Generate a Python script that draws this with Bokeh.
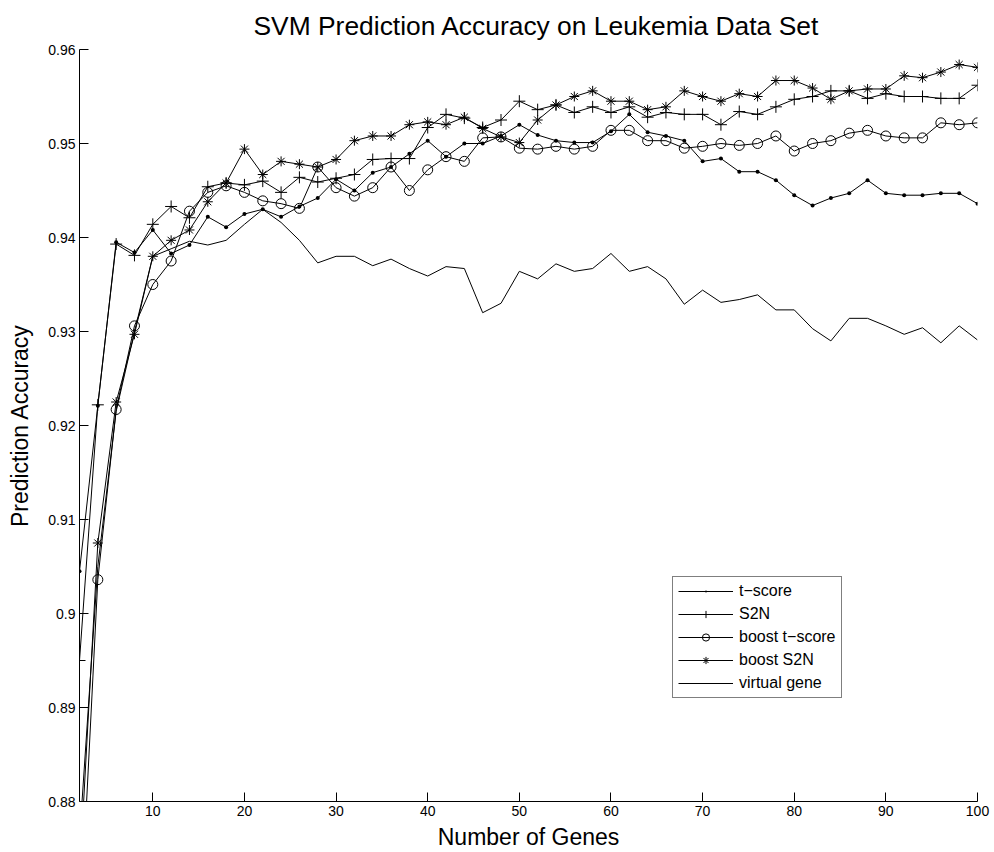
from bokeh.plotting import figure
from bokeh.models import Range1d, FixedTicker, CustomJSTickFormatter, Legend, LegendItem
from bokeh.embed import file_html
from bokeh.resources import INLINE

# Number of genes used by the classifier
genes = [2, 4, 6, 8, 10, 12, 14, 16, 18, 20,
         22, 24, 26, 28, 30, 32, 34, 36, 38, 40,
         42, 44, 46, 48, 50, 52, 54, 56, 58, 60,
         62, 64, 66, 68, 70, 72, 74, 76, 78, 80,
         82, 84, 86, 88, 90, 92, 94, 96, 98, 100]

# Prediction accuracy for each gene-selection method
t_score = [0.9045, 0.9221, 0.9395, 0.9384, 0.9408, 0.9383, 0.9392, 0.9422, 0.9411, 0.9425,
           0.9430, 0.9422, 0.9433, 0.9442, 0.9462, 0.9450, 0.9469, 0.9475, 0.9489, 0.9503,
           0.9486, 0.9500, 0.9500, 0.9508, 0.9520, 0.9509, 0.9503, 0.9501, 0.9501, 0.9513,
           0.9531, 0.9512, 0.9508, 0.9503, 0.9481, 0.9484, 0.9470, 0.9470, 0.9461, 0.9445,
           0.9434, 0.9442, 0.9447, 0.9461, 0.9447, 0.9445, 0.9445, 0.9447, 0.9447, 0.9436]

s2n = [0.8950, 0.9222, 0.9393, 0.9381, 0.9414, 0.9433, 0.9421, 0.9454, 0.9458, 0.9456,
       0.9460, 0.9448, 0.9464, 0.9459, 0.9463, 0.9467, 0.9483, 0.9484, 0.9484, 0.9517,
       0.9531, 0.9527, 0.9517, 0.9525, 0.9545, 0.9536, 0.9541, 0.9533, 0.9539, 0.9533,
       0.9539, 0.9528, 0.9533, 0.9531, 0.9531, 0.9520, 0.9534, 0.9531, 0.9539, 0.9547,
       0.9550, 0.9556, 0.9556, 0.9548, 0.9553, 0.9550, 0.9550, 0.9548, 0.9548, 0.9562]

boost_t_score = [0.8650, 0.9036, 0.9217, 0.9306, 0.9350, 0.9375, 0.9428, 0.9448, 0.9455, 0.9448,
                 0.9439, 0.9436, 0.9431, 0.9475, 0.9453, 0.9444, 0.9453, 0.9475, 0.9450, 0.9472,
                 0.9486, 0.9481, 0.9506, 0.9507, 0.9495, 0.9494, 0.9497, 0.9494, 0.9497, 0.9514,
                 0.9514, 0.9503, 0.9503, 0.9495, 0.9497, 0.9500, 0.9498, 0.9500, 0.9508, 0.9492,
                 0.9500, 0.9503, 0.9511, 0.9514, 0.9508, 0.9506, 0.9506, 0.9522, 0.9520, 0.9522]

boost_s2n = [0.8720, 0.9075, 0.9225, 0.9297, 0.9380, 0.9397, 0.9408, 0.9438, 0.9458, 0.9494,
             0.9467, 0.9481, 0.9478, 0.9475, 0.9483, 0.9503, 0.9508, 0.9508, 0.9520, 0.9523,
             0.9520, 0.9528, 0.9516, 0.9507, 0.9501, 0.9525, 0.9541, 0.9550, 0.9556, 0.9545,
             0.9545, 0.9536, 0.9539, 0.9556, 0.9550, 0.9545, 0.9553, 0.9550, 0.9567, 0.9567,
             0.9559, 0.9547, 0.9556, 0.9558, 0.9558, 0.9572, 0.9570, 0.9576, 0.9584, 0.9581]

virtual_gene = [0.8760, 0.9050, 0.9215, 0.9300, 0.9380, 0.9388, 0.9396, 0.9392, 0.9397, 0.9414,
                0.9430, 0.9416, 0.9397, 0.9373, 0.9380, 0.9380, 0.9370, 0.9377, 0.9367, 0.9359,
                0.9369, 0.9367, 0.9320, 0.9330, 0.9364, 0.9356, 0.9372, 0.9364, 0.9367, 0.9383,
                0.9364, 0.9369, 0.9356, 0.9329, 0.9344, 0.9331, 0.9334, 0.9339, 0.9323, 0.9323,
                0.9303, 0.9290, 0.9314, 0.9314, 0.9306, 0.9297, 0.9304, 0.9288, 0.9306, 0.9291]

x_ticks = [10, 20, 30, 40, 50, 60, 70, 80, 90, 100]
y_ticks = [0.88, 0.89, 0.90, 0.91, 0.92, 0.93, 0.94, 0.95, 0.96]

FONT = "Liberation Sans"

p = figure(width=994, height=852, output_backend="svg", toolbar_location=None,
           x_range=Range1d(2, 100), y_range=Range1d(0.88, 0.96),
           title="SVM Prediction Accuracy on Leukemia Data Set")

p.min_border_left = 79
p.min_border_right = 17
p.min_border_top = 49
p.min_border_bottom = 51
p.outline_line_color = None
p.background_fill_color = "white"
p.border_fill_color = "white"
p.xgrid.visible = False
p.ygrid.visible = False

p.title.text_font = FONT
p.title.text_font_size = "26.4px"
p.title.text_font_style = "normal"
p.title.text_color = "black"
p.title.align = "left"
p.title.offset = 174
p.title.standoff = 17

for ax in (p.xaxis[0], p.yaxis[0]):
    ax.axis_line_color = "black"
    ax.axis_line_width = 1
    ax.major_tick_line_color = "black"
    ax.major_tick_in = 9
    ax.major_tick_out = 0
    ax.minor_tick_line_color = None
    ax.major_label_text_font = FONT
    ax.major_label_text_font_size = "14px"
    ax.major_label_text_color = "black"
    ax.axis_label_text_font = FONT
    ax.axis_label_text_font_size = "23px"
    ax.axis_label_text_font_style = "normal"
    ax.axis_label_text_color = "black"

p.xaxis.ticker = FixedTicker(ticks=x_ticks)
p.yaxis.ticker = FixedTicker(ticks=y_ticks)
p.yaxis.formatter = CustomJSTickFormatter(code="return String(Math.round(tick * 100) / 100);")
p.xaxis.axis_label = "Number of Genes"
p.yaxis.axis_label = "Prediction Accuracy"
p.xaxis.major_label_standoff = 4
p.yaxis.major_label_standoff = 4
p.xaxis.axis_label_standoff = 5
p.yaxis.axis_label_standoff = 12

series = [
    ("t\u2212score", t_score, "dot", 16),
    ("S2N", s2n, "cross", 12),
    ("boost t\u2212score", boost_t_score, "circle", 10),
    ("boost S2N", boost_s2n, "asterisk", 10),
    ("virtual gene", virtual_gene, None, 0),
]

items = []
for label, ys, marker, size in series:
    rs = [p.line(genes, ys, line_color="black", line_width=1)]
    if marker is not None:
        rs.append(p.scatter(genes, ys, marker=marker, size=size,
                            line_color="black", fill_color="black" if marker == "dot" else None,
                            line_width=1))
    items.append(LegendItem(label=label, renderers=rs))

legend = Legend(items=items, location=(593, 103))
legend.label_text_font = FONT
legend.label_text_font_size = "16px"
legend.label_text_color = "black"
legend.border_line_color = "black"
legend.border_line_width = 1
legend.background_fill_color = "white"
legend.background_fill_alpha = 1
legend.glyph_width = 55
legend.glyph_height = 18
legend.label_height = 18
legend.spacing = 5
legend.padding = 5
legend.margin = 0
legend.label_standoff = 6
p.add_layout(legend, "center")

open("out.html", "w").write(file_html(p, INLINE))
